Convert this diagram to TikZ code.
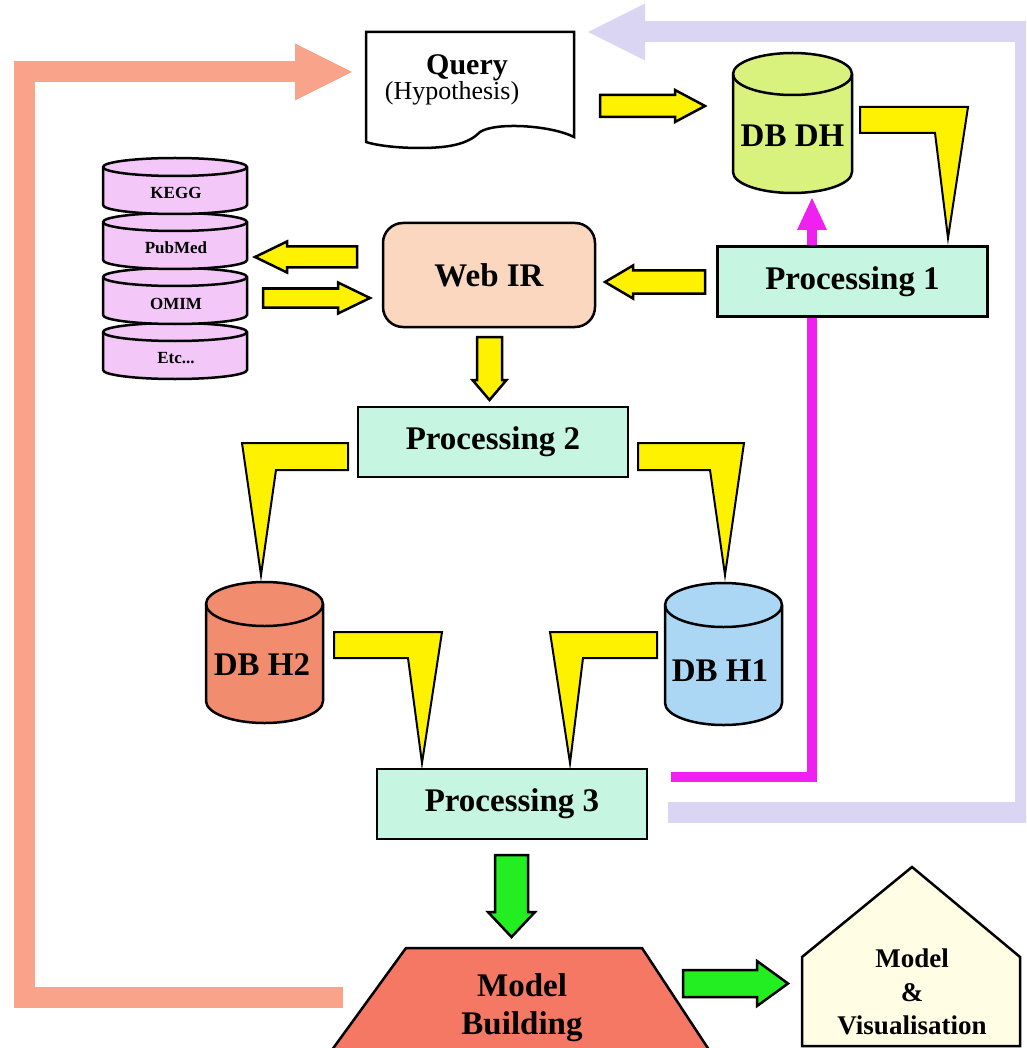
\documentclass[tikz,border=0pt]{standalone}
\usepackage{fontspec}
\setmainfont{Liberation Serif}
\usetikzlibrary{calc,arrows.meta}

\definecolor{procfill}{HTML}{C6F6E2}
\definecolor{webfill}{HTML}{FAD7BE}
\definecolor{stackfill}{HTML}{F3C8F8}
\definecolor{dhfill}{HTML}{D9F27D}
\definecolor{htwofill}{HTML}{F28C6E}
\definecolor{honefill}{HTML}{ABD7F5}
\definecolor{mbfill}{HTML}{F57864}
\definecolor{visfill}{HTML}{FFFDE3}
\definecolor{backsalmon}{HTML}{F8A38A}
\definecolor{backlav}{HTML}{D9D5F2}
\definecolor{backmag}{HTML}{F020F0}
\definecolor{arrgreen}{HTML}{22EE22}

\newcommand{\fatarrow}[7]{%
  \filldraw[fill=#1,shift={#2},rotate=#3] (0,{-#5/2}) -- ({#4-#7},{-#5/2}) -- ({#4-#7},{-#6/2})
    -- (#4,0) -- ({#4-#7},{#6/2}) -- ({#4-#7},{#5/2}) -- (0,{#5/2}) -- cycle;}
\newcommand{\drum}[6]{%
  \filldraw[fill=#6] ({#1-#4},{#2+#5}) -- ({#1-#4},{#3-#5})
    arc[start angle=180,end angle=360,x radius=#4pt,y radius=#5pt]
    -- ({#1+#4},{#2+#5})
    arc[start angle=0,end angle=180,x radius=#4pt,y radius=#5pt] -- cycle;
  \draw ({#1+#4},{#2+#5}) arc[start angle=0,end angle=-180,x radius=#4pt,y radius=#5pt];}

\begin{document}
\begin{tikzpicture}[x=1pt,y=-1pt,line width=2.5pt,line join=miter,
  proc/.style={draw,fill=procfill,minimum width=270pt,minimum height=70pt,inner sep=0pt,
    font=\bfseries\fontsize{33}{38}\selectfont},
  big/.style={font=\bfseries\fontsize{33}{38}\selectfont},
  small/.style={font=\bfseries\fontsize{17}{20}\selectfont},
  callout/.style={draw,fill=yellow,line width=2pt},
  back/.style={line width=21pt,-{Triangle[width=57pt,length=57pt,line width=0pt]}}]
  \useasboundingbox (0,0) rectangle (1026,1048);
  \clip (0,0) rectangle (1026,1048);

  \coordinate (mbl) at (343,997.5);
  \coordinate (qin) at (352,72);
  \coordinate (p3lav) at (668,812.5);
  \coordinate (qlav) at (588,32);
  \coordinate (p3mag) at (671,777);
  \coordinate (dhmag) at (812,198);
  \draw[back,backsalmon] (mbl) -| (24,72) -- (qin);
  \draw[back,backlav] (p3lav) -| (1025,32) -- (qlav);
  \draw[backmag,line width=10pt,-{Triangle[width=30pt,length=32pt,line width=0pt]}] (p3mag) -| (dhmag);

  \filldraw[fill=white] (366,32) -- (574,32) -- (574,137) .. controls (550,125) and (495,122) .. (480,132)
    .. controls (470,142) and (455,148) .. (420,148) .. controls (395,148) and (375,145) .. (366,142) -- cycle;
  \node[anchor=base,font=\bfseries\fontsize{30}{34}\selectfont] (query) at (467,75) {Query};
  \node[anchor=base,font=\fontsize{26}{30}\selectfont] (hyp) at (452,100) {(Hypothesis)};

  \drum{792.5}{53}{193}{59.5}{21}{dhfill}
  \node[big] (dbdh) at (792.5,136) {DB DH};
  \drum{264.5}{582}{723}{58.5}{22}{htwofill}
  \node[big] (dbh2) at (262,665) {DB H2};
  \drum{723.5}{583}{725}{58.5}{22}{honefill}
  \node[big] (dbh1) at (720,671) {DB H1};

  \foreach \i in {3,2,1,0}
    \drum{175}{158+55*\i}{214+55*\i}{72}{9}{stackfill}
  \node[small] (kegg) at (176,193) {KEGG};
  \node[small] (pubmed) at (176,248) {PubMed};
  \node[small] (omim) at (176,304) {OMIM};
  \node[small] (etc) at (176,358) {Etc...};

  \node[draw,fill=webfill,rounded corners=20pt,minimum width=212pt,minimum height=104pt,big] (webir) at (489,275) {Web IR};
  \node[proc] (proc1) at (852.5,281.5) {Processing 1};
  \node[proc] (proc2) at (493,442) {Processing 2};
  \node[proc] (proc3) at (512,804) {Processing 3};

  \coordinate (ya1) at (600,106);
  \coordinate (ya2) at (705,282);
  \coordinate (ya3) at (357,257);
  \coordinate (ya4) at (263,298);
  \coordinate (ya5) at (489.5,337);
  \fatarrow{yellow}{(ya1)}{0}{105}{22}{32}{30}
  \fatarrow{yellow}{(ya2)}{180}{100}{23}{33}{28}
  \fatarrow{yellow}{(ya3)}{180}{102}{21}{31}{32}
  \fatarrow{yellow}{(ya4)}{0}{107}{19}{31}{32}
  \fatarrow{yellow}{(ya5)}{-90}{63}{25}{34}{20}

  \draw[callout] (860,107) -- (968,107) -- (948,238) -- (935,133) -- (860,133) -- cycle;
  \draw[callout] (348,443) -- (242,443) -- (261,575) -- (276,470) -- (348,470) -- cycle;
  \draw[callout] (638,443) -- (744,443) -- (725,575) -- (710,470) -- (638,470) -- cycle;
  \draw[callout] (334,632) -- (442,632) -- (422,763) -- (408,658) -- (334,658) -- cycle;
  \draw[callout] (657,632) -- (550,632) -- (570,763) -- (583,658) -- (657,658) -- cycle;

  \filldraw[fill=mbfill] (406,948) -- (642,948) -- (719,1065) -- (321,1065) -- cycle;
  \node[big,align=center] (modelb) at (522,1008) {Model\\Building};
  \filldraw[fill=visfill] (802,957) -- (912,867) -- (1020,957) -- (1020,1046) -- (802,1046) -- cycle;
  \node[align=center,font=\bfseries\fontsize{27}{33.5}\selectfont] (modelv) at (912,992) {Model\\\&\\Visualisation};

  \coordinate (ga1) at (511.5,855);
  \coordinate (ga2) at (683,983.5);
  \fatarrow{arrgreen}{(ga1)}{-90}{82}{33}{47}{25}
  \fatarrow{arrgreen}{(ga2)}{0}{105}{27}{45}{31}
\end{tikzpicture}
\end{document}
